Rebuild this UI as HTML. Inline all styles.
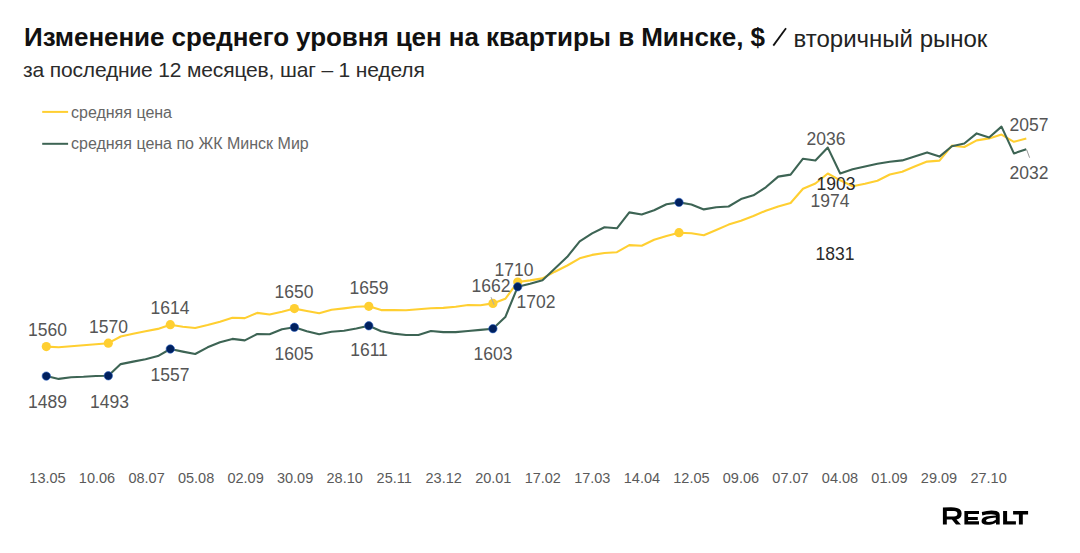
<!DOCTYPE html>
<html><head><meta charset="utf-8">
<style>
html,body{margin:0;padding:0;background:#fff;}
body{width:1080px;height:553px;position:relative;overflow:hidden;font-family:"Liberation Sans",sans-serif;}
.t{position:absolute;left:24px;top:19px;white-space:nowrap;font-size:26px;letter-spacing:-0.06px;font-weight:bold;color:#111;line-height:36px;}
.t2{position:absolute;left:793.5px;top:22.5px;white-space:nowrap;font-size:24px;color:#222;line-height:32px;}
.s{position:absolute;left:23px;top:55.5px;white-space:nowrap;font-size:21px;letter-spacing:-0.15px;color:#2b2b2b;line-height:28px;}
svg{position:absolute;left:0;top:0;}
.n{font-size:17.5px;fill:#555555;}
.xl{font-size:14.5px;fill:#5a5a5a;}
.lg{font-size:16px;fill:#666;}
</style></head><body>
<div class="t">Изменение среднего уровня цен на квартиры в Минске, $</div>
<div class="t2">вторичный рынок</div>
<div class="s">за последние 12 месяцев, шаг – 1 неделя</div>
<svg width="1080" height="553" viewBox="0 0 1080 553">
<line x1="773.3" y1="45.6" x2="786" y2="28.2" stroke="#111" stroke-width="1.8"/>
<line x1="42.2" y1="111.9" x2="68.1" y2="111.9" stroke="#ffcf31" stroke-width="2"/>
<line x1="42.2" y1="143.8" x2="68.1" y2="143.8" stroke="#3d6454" stroke-width="2"/>
<text x="71" y="117.5" class="lg">средняя цена</text>
<text x="71" y="148.5" class="lg">средняя цена по ЖК Минск Мир</text>
<polyline points="46.3,346.6 58.7,347.2 71.1,346.2 83.5,345.2 95.9,344.3 108.3,343.2 120.7,336.5 133.1,333.8 145.5,331.2 157.9,328.9 170.3,324.7 182.8,326.7 195.2,328.0 207.6,325.1 220.0,321.8 232.4,317.8 244.8,318.1 257.2,312.9 269.6,314.5 282.0,311.8 294.4,308.6 306.8,311.0 319.2,313.3 331.6,309.8 344.0,308.4 356.4,306.8 368.8,306.3 381.2,310.1 393.6,310.1 406.0,310.3 418.4,309.3 430.9,308.2 443.3,307.9 455.7,306.8 468.1,305.0 480.5,305.2 492.9,303.4 505.3,298.8 517.7,282.0 530.1,280.4 542.5,278.4 554.9,271.7 567.3,265.5 579.7,258.3 592.1,254.9 604.5,253.0 616.9,252.2 629.3,245.1 641.7,245.7 654.1,239.8 666.5,236.0 679.0,232.7 691.4,233.3 703.8,235.2 716.2,230.0 728.6,224.6 741.0,220.7 753.4,216.0 765.8,210.7 778.2,206.4 790.6,203.0 803.0,188.8 815.4,183.5 827.8,173.5 840.2,180.3 852.6,186.2 865.0,183.7 877.4,180.7 889.8,174.5 902.2,171.8 914.6,166.5 927.1,161.6 939.5,160.6 951.9,145.6 964.3,147.0 976.7,140.4 989.1,138.4 1001.5,134.6 1013.9,141.8 1026.3,138.6" fill="none" stroke="#ffcf31" stroke-width="2.1" stroke-linejoin="round"/>
<polyline points="46.3,376.1 58.7,378.9 71.1,377.2 83.5,376.8 95.9,376.0 108.3,375.8 120.7,364.1 133.1,361.6 145.5,359.2 157.9,356.1 170.3,349.0 182.8,351.6 195.2,354.0 207.6,347.3 220.0,342.3 232.4,338.9 244.8,340.4 257.2,334.0 269.6,334.3 282.0,329.2 294.4,327.3 306.8,331.3 319.2,334.3 331.6,331.8 344.0,330.7 356.4,328.5 368.8,325.8 381.2,331.2 393.6,333.6 406.0,335.0 418.4,335.0 430.9,331.0 443.3,332.1 455.7,332.1 468.1,331.0 480.5,329.9 492.9,328.7 505.3,317.1 517.7,286.8 530.1,283.8 542.5,280.2 554.9,268.4 567.3,256.8 579.7,241.3 592.1,233.4 604.5,227.2 616.9,228.3 629.3,212.4 641.7,214.5 654.1,210.3 666.5,204.3 679.0,202.4 691.4,204.5 703.8,209.4 716.2,207.2 728.6,206.5 741.0,199.1 753.4,195.3 765.8,187.3 778.2,176.6 790.6,174.6 803.0,158.7 815.4,160.5 827.8,147.6 840.2,173.5 852.6,169.2 865.0,166.4 877.4,163.8 889.8,161.8 902.2,160.4 914.6,156.4 927.1,152.4 939.5,156.6 951.9,146.3 964.3,143.5 976.7,133.4 989.1,137.5 1001.5,126.6 1013.9,153.4 1026.3,149.3" fill="none" stroke="#3d6454" stroke-width="2.1" stroke-linejoin="round"/>
<circle cx="46.3" cy="346.6" r="4.6" fill="#ffcf31"/>
<circle cx="108.3" cy="343.2" r="4.6" fill="#ffcf31"/>
<circle cx="170.3" cy="324.7" r="4.6" fill="#ffcf31"/>
<circle cx="294.4" cy="308.6" r="4.6" fill="#ffcf31"/>
<circle cx="368.8" cy="306.3" r="4.6" fill="#ffcf31"/>
<circle cx="492.9" cy="303.4" r="4.6" fill="#ffcf31"/>
<circle cx="517.7" cy="282.0" r="4.6" fill="#ffcf31"/>
<circle cx="679.0" cy="232.7" r="4.6" fill="#ffcf31"/>
<circle cx="46.3" cy="376.1" r="4.2" fill="#00205e" stroke="#2a62c4" stroke-width="0.6"/>
<circle cx="108.3" cy="375.8" r="4.2" fill="#00205e" stroke="#2a62c4" stroke-width="0.6"/>
<circle cx="170.3" cy="349.0" r="4.2" fill="#00205e" stroke="#2a62c4" stroke-width="0.6"/>
<circle cx="294.4" cy="327.3" r="4.2" fill="#00205e" stroke="#2a62c4" stroke-width="0.6"/>
<circle cx="368.8" cy="325.8" r="4.2" fill="#00205e" stroke="#2a62c4" stroke-width="0.6"/>
<circle cx="492.9" cy="328.7" r="4.2" fill="#00205e" stroke="#2a62c4" stroke-width="0.6"/>
<circle cx="517.7" cy="286.8" r="4.2" fill="#00205e" stroke="#2a62c4" stroke-width="0.6"/>
<circle cx="679.0" cy="202.4" r="4.2" fill="#00205e" stroke="#2a62c4" stroke-width="0.6"/>
<line x1="491" y1="297.1" x2="494.1" y2="304.7" stroke="#aaa" stroke-width="1"/>
<line x1="1026.7" y1="149.8" x2="1029.6" y2="157.7" stroke="#999" stroke-width="1"/>
<line x1="828" y1="179.5" x2="829.8" y2="183.5" stroke="#aaa" stroke-width="1"/>
<text x="47.5" y="336" text-anchor="middle" class="n">1560</text>
<text x="108.5" y="333" text-anchor="middle" class="n">1570</text>
<text x="170" y="314" text-anchor="middle" class="n">1614</text>
<text x="294" y="298" text-anchor="middle" class="n">1650</text>
<text x="369" y="294" text-anchor="middle" class="n">1659</text>
<text x="491" y="292" text-anchor="middle" class="n">1662</text>
<text x="514" y="276" text-anchor="middle" class="n">1710</text>
<text x="536" y="308" text-anchor="middle" class="n">1702</text>
<text x="47.5" y="408" text-anchor="middle" class="n">1489</text>
<text x="109.5" y="408" text-anchor="middle" class="n">1493</text>
<text x="170" y="380.5" text-anchor="middle" class="n">1557</text>
<text x="294" y="360" text-anchor="middle" class="n">1605</text>
<text x="369" y="356" text-anchor="middle" class="n">1611</text>
<text x="493" y="360" text-anchor="middle" class="n">1603</text>
<text x="826" y="145" text-anchor="middle" class="n">2036</text>
<text x="836" y="190" text-anchor="middle" class="n" style="fill:#2a2a2a">1903</text>
<text x="830" y="207" text-anchor="middle" class="n">1974</text>
<text x="835" y="260" text-anchor="middle" class="n" style="fill:#2a2a2a">1831</text>
<text x="1029" y="131" text-anchor="middle" class="n">2057</text>
<text x="1029" y="179" text-anchor="middle" class="n">2032</text>
<text x="47.5" y="483" text-anchor="middle" class="xl">13.05</text>
<text x="97.0" y="483" text-anchor="middle" class="xl">10.06</text>
<text x="146.6" y="483" text-anchor="middle" class="xl">08.07</text>
<text x="196.1" y="483" text-anchor="middle" class="xl">05.08</text>
<text x="245.6" y="483" text-anchor="middle" class="xl">02.09</text>
<text x="295.1" y="483" text-anchor="middle" class="xl">30.09</text>
<text x="344.7" y="483" text-anchor="middle" class="xl">28.10</text>
<text x="394.2" y="483" text-anchor="middle" class="xl">25.11</text>
<text x="443.7" y="483" text-anchor="middle" class="xl">23.12</text>
<text x="493.3" y="483" text-anchor="middle" class="xl">20.01</text>
<text x="542.8" y="483" text-anchor="middle" class="xl">17.02</text>
<text x="592.3" y="483" text-anchor="middle" class="xl">17.03</text>
<text x="641.9" y="483" text-anchor="middle" class="xl">14.04</text>
<text x="691.4" y="483" text-anchor="middle" class="xl">12.05</text>
<text x="740.9" y="483" text-anchor="middle" class="xl">09.06</text>
<text x="790.5" y="483" text-anchor="middle" class="xl">07.07</text>
<text x="840.0" y="483" text-anchor="middle" class="xl">04.08</text>
<text x="889.5" y="483" text-anchor="middle" class="xl">01.09</text>
<text x="939.0" y="483" text-anchor="middle" class="xl">29.09</text>
<text x="988.6" y="483" text-anchor="middle" class="xl">27.10</text>
<g fill="#000">
<path fill-rule="evenodd" d="M942.9,507.6 L951,507.2 Q961.6,507.2 961.6,513.4 Q961.6,518.6 956.5,519.4 L960.9,524.5 L956,524.5 L951.9,519.6 L946.8,519.6 L946.8,524.5 L942.9,524.5 Z M946.8,511.1 L954,511.1 Q957.4,511.1 957.4,513.7 Q957.4,516.4 954,516.4 L946.8,516.4 Z"/>
<path d="M964.4,511.1 H979 V514.1 H968.1 V516.9 H977.8 V520.1 H968.1 V521.2 H979 V524.5 H964.4 Z"/>
<path fill-rule="evenodd" d="M981.8,512 Q990,509.6 996.5,511 Q999.7,512 999.7,515 V524.5 H996 V522.5 Q993,524.8 987,524.8 Q981.5,524.8 981.5,521 Q981.5,516.5 990,516 L996,515.6 Q996,514.4 991,514.2 Q986,514.2 982.3,515.6 Z M986,520.8 Q986,522.1 988.8,522.1 Q993,522.1 995.8,519.8 V517.6 L990,518.3 Q986,518.9 986,520.8 Z"/>
<path d="M1003.1,511.1 H1007.1 V521.3 H1015.9 V524.5 H1003.1 Z"/>
<path d="M1013.1,511.1 H1028.1 V514.6 H1022.8 V524.5 H1018.9 V514.6 H1013.1 Z"/>
</g>
</svg>
</body></html>
